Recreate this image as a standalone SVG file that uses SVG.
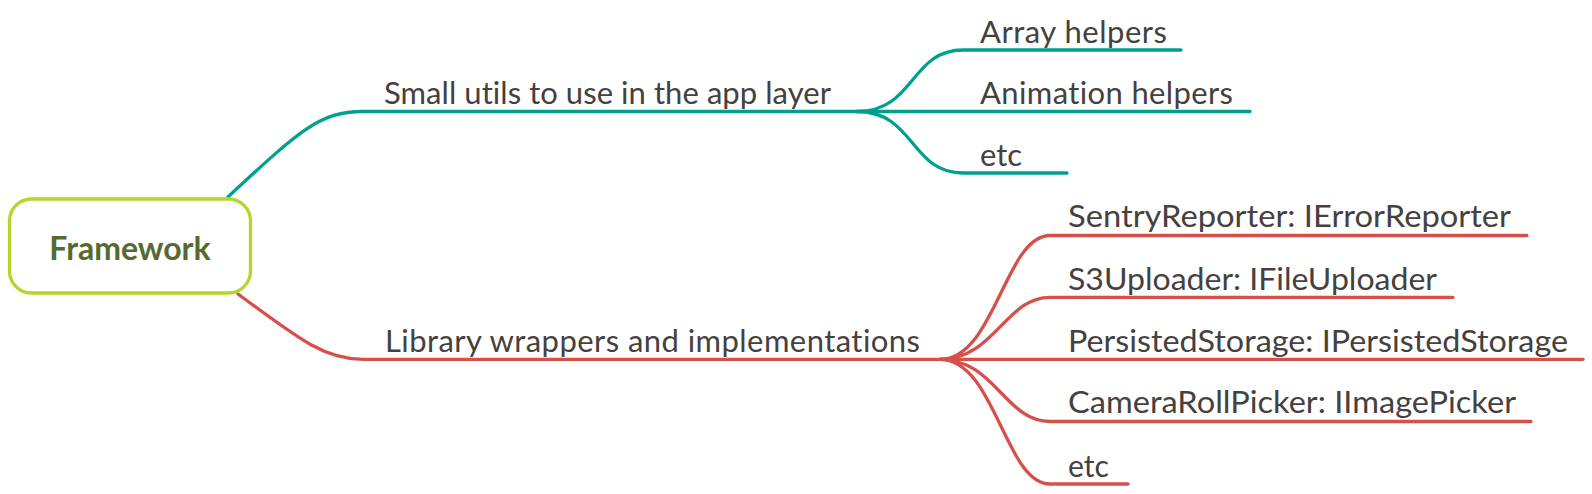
<svg xmlns="http://www.w3.org/2000/svg" width="1592" height="494" viewBox="0 0 1592 494">
<style>
.t{font-family:Lato,"Open Sans",sans-serif;font-size:31px;fill:#44413e;font-variant-ligatures:none}
.r{font-size:30px}
.teal{fill:none;stroke:#00a08f;stroke-width:3.3;stroke-linecap:round}
.red{fill:none;stroke:#d5504b;stroke-width:3.3;stroke-linecap:round}
</style>
<rect width="1592" height="494" fill="#ffffff"/>
<g id="connectors">
<path class="teal" d="M228,197 C300,130 320,111.5 363,111.5 L857,111.5"/>
<path class="teal" d="M857,111.5 C915,111.5 910,50 963,50 L1181,50"/>
<path class="teal" d="M857,111.5 L1250,111.5"/>
<path class="teal" d="M857,111.5 C915,111.5 910,173 963,173 L1067,173"/>
<path class="red" d="M238,294 C300,340 325,359.3 363,359.3 L940,359.3"/>
<path class="red" d="M940,359.3 C995,359.3 1005,235.5 1050,235.5 L1527,235.5"/>
<path class="red" d="M940,359.3 C995,359.3 1005,297.3 1050,297.3 L1453,297.3"/>
<path class="red" d="M940,359.3 L1583,359.3"/>
<path class="red" d="M940,359.3 C995,359.3 1005,421.5 1050,421.5 L1531,421.5"/>
<path class="red" d="M940,359.3 C995,359.3 1005,484 1050,484 L1128,484"/>
</g>
<g id="root">
<rect x="9.5" y="199" width="241" height="94" rx="22" fill="#ffffff" stroke="#b4d52b" stroke-width="3.3"/>
<text x="130" y="260" text-anchor="middle" style="font-family:Lato,'Open Sans',sans-serif;font-size:32px;font-weight:bold;fill:#566a30">Framework</text>
</g>
<g id="n-utils"><text class="t" x="384" y="104.3" textLength="447">Small utils to use in the app layer</text></g>
<g id="n-array"><text class="t" x="980" y="42.7" textLength="187">Array helpers</text></g>
<g id="n-anim"><text class="t" x="980" y="104.3" textLength="253">Animation helpers</text></g>
<g id="n-etc1"><text class="t" x="980" y="165.7" textLength="42">etc</text></g>
<g id="n-lib"><text class="t" x="385" y="351.7" textLength="535">Library wrappers and implementations</text></g>
<g id="n-sentry"><text class="t r" x="1068" y="226.7" textLength="443" lengthAdjust="spacingAndGlyphs">SentryReporter: IErrorReporter</text></g>
<g id="n-s3"><text class="t r" x="1068" y="290" textLength="369" lengthAdjust="spacingAndGlyphs">S3Uploader: IFileUploader</text></g>
<g id="n-persist"><text class="t r" x="1068" y="352.3" textLength="500" lengthAdjust="spacingAndGlyphs">PersistedStorage: IPersistedStorage</text></g>
<g id="n-camera"><text class="t r" x="1068" y="413.3" textLength="448" lengthAdjust="spacingAndGlyphs">CameraRollPicker: IImagePicker</text></g>
<g id="n-etc2"><text class="t r" x="1068" y="476.7" textLength="41" lengthAdjust="spacingAndGlyphs">etc</text></g>
</svg>
